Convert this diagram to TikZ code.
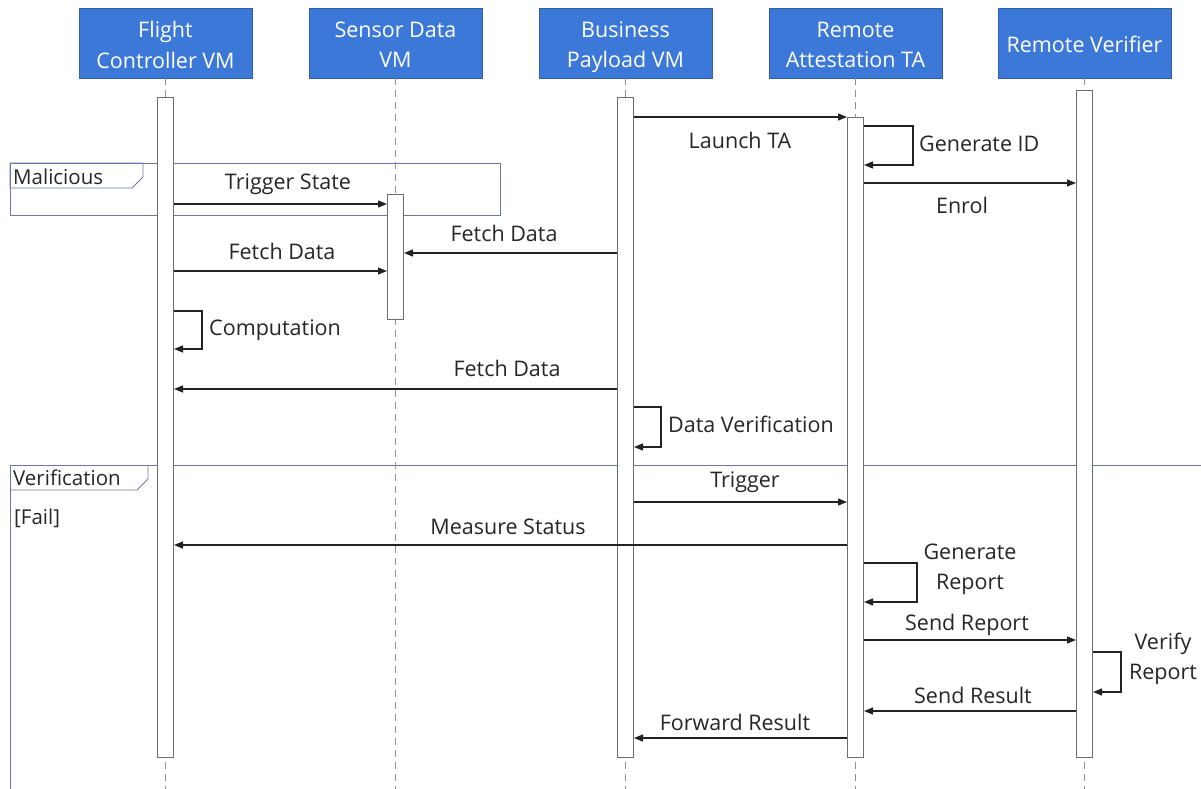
\documentclass[tikz,border=0pt]{standalone}
\usepackage{fontspec}
\setmainfont{Open Sans}
\usetikzlibrary{arrows.meta}
\definecolor{hdrfill}{HTML}{3C78D8}
\definecolor{hdrline}{HTML}{2F5FA8}
\definecolor{lifeln}{HTML}{8A90A8}
\definecolor{fragln}{HTML}{6E76A6}
\definecolor{barln}{HTML}{6E6E6E}
\definecolor{msgln}{HTML}{222222}
\definecolor{txt}{HTML}{262626}
% fixed line box for participant titles (height 25pt, depth 5pt)
\newcommand\hdrstrut{\rule[-5pt]{0pt}{30pt}}
\begin{document}
\begin{tikzpicture}[x=1pt,y=-1pt,
  header/.style={draw=hdrline, fill=hdrfill, text=white, minimum width=173pt,
    minimum height=70pt, inner sep=2pt, align=center, font=\fontsize{21.5}{30}\selectfont},
  lifeline/.style={draw=lifeln, dash pattern=on 7pt off 5pt, line width=0.9pt},
  bar/.style={draw=barln, fill=white, minimum width=16pt, inner sep=0pt, line width=1pt, anchor=north},
  msg/.style={draw=msgln, line width=1.3pt, -{Triangle[length=9pt,width=7pt]}},
  lbl/.style={text=txt, font=\fontsize{21.5}{30}\selectfont, inner sep=0pt, align=center},
  tag/.style={lbl, anchor=west, font=\fontsize{20.5}{24}\selectfont},
  frame/.style={draw=fragln, line width=0.9pt},
]
\useasboundingbox (0,0) rectangle (1201,789);
\clip (0,0) rectangle (1201,789);

% combined fragments
\draw[frame] (10,163) rectangle (500,215);
\draw[frame] (10,188) -- (10,163) -- (143,163) -- (143,177) -- (132,188) -- cycle;
\node[tag] (maltag) at (13,177) {Malicious};
\draw[frame] (1210,465) -- (10,465) -- (10,800);
\draw[frame] (10,490) -- (137,490) -- (148,479) -- (148,465);
\node[tag] (vertag) at (13,478) {Verification};
\node[tag] (fail) at (14,518) {[Fail]};

% participants
\node[header] (fc) at (165.5,43) {\hdrstrut Flight\\\hdrstrut Controller VM};
\node[header] (sd) at (395.5,43) {\hdrstrut Sensor Data\\\hdrstrut VM};
\node[header] (bp) at (625.5,43) {\hdrstrut Business\\\hdrstrut Payload VM};
\node[header] (ra) at (855.5,43) {\hdrstrut Remote\\\hdrstrut Attestation TA};
\node[header] (rv) at (1084.5,43) {\hdrstrut Remote Verifier};

% lifelines
\foreach \p in {fc,sd,bp,ra,rv}
  \draw[lifeline] (\p.south) -- (\p.south |- 0,789);

% activation bars
\node[bar, minimum height=660pt] (fcbar) at (fc.south |- 0,97) {};
\node[bar, minimum height=125pt] (sdbar) at (sd.south |- 0,194) {};
\node[bar, minimum height=660pt] (bpbar) at (bp.south |- 0,97) {};
\node[bar, minimum height=640pt] (rabar) at (ra.south |- 0,117) {};
\node[bar, minimum height=667pt] (rvbar) at (rv.south |- 0,90) {};

% messages
\draw[msg] (bpbar.east |- 0,117) -- (rabar.west |- 0,117);
\node[lbl] (m1) at (740,140) {Launch TA};
\draw[msg] (rabar.east |- 0,126) -- ++(49,0) |- (rabar.east |- 0,165);
\node[lbl, anchor=west] (m2) at (919,144) {Generate ID};
\draw[msg] (rabar.east |- 0,183) -- (rvbar.west |- 0,183);
\node[lbl] (m3) at (962,205) {Enrol};
\draw[msg] (fcbar.east |- 0,204) -- (sdbar.west |- 0,204);
\node[lbl] (m4) at (288,184) {Trigger State};
\draw[msg] (bpbar.west |- 0,253) -- (sdbar.east |- 0,253);
\node[lbl] (m5) at (504,233) {Fetch Data};
\draw[msg] (fcbar.east |- 0,271) -- (sdbar.west |- 0,271);
\node[lbl] (m6) at (282,251) {Fetch Data};
\draw[msg] (fcbar.east |- 0,311) -- ++(28,0) |- (fcbar.east |- 0,349);
\node[lbl, anchor=west] (m7) at (209,330) {Computation};
\draw[msg] (bpbar.west |- 0,389) -- (fcbar.east |- 0,389);
\node[lbl] (m8) at (507,368) {Fetch Data};
\draw[msg] (bpbar.east |- 0,407) -- ++(27,0) |- (bpbar.east |- 0,447);
\node[lbl, anchor=west] (m9) at (668,424) {Data Verification};
\draw[msg] (bpbar.east |- 0,502) -- (rabar.west |- 0,502);
\node[lbl] (m10) at (745,482) {Trigger};
\draw[msg] (rabar.west |- 0,545) -- (fcbar.east |- 0,545);
\node[lbl] (m11) at (508,527) {Measure Status};
\draw[msg] (rabar.east |- 0,563) -- ++(53,0) |- (rabar.east |- 0,602);
\node[lbl] (m12) at (970,569) {Generate\\Report};
\draw[msg] (rabar.east |- 0,640) -- (rvbar.west |- 0,640);
\node[lbl] (m13) at (967,625) {Send Report};
\draw[msg] (rvbar.east |- 0,652) -- ++(28,0) |- (rvbar.east |- 0,692);
\node[lbl] (m14) at (1163,659) {Verify\\Report};
\draw[msg] (rvbar.west |- 0,711) -- (rabar.east |- 0,711);
\node[lbl] (m15) at (973,695) {Send Result};
\draw[msg] (rabar.west |- 0,738) -- (bpbar.east |- 0,738);
\node[lbl] (m16) at (735,722) {Forward Result};
\end{tikzpicture}
\end{document}
